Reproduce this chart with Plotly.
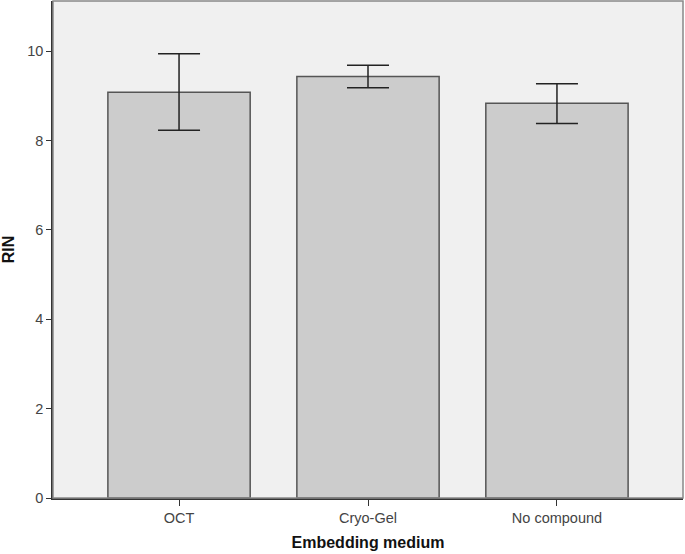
import plotly.graph_objects as go

# data
media = ['OCT', 'Cryo-Gel', 'No compound']
rin_mean = [9.08, 9.43, 8.83]
rin_upper = [9.94, 9.68, 9.27]
rin_lower = [8.23, 9.18, 8.38]

err_plus = [u - m for u, m in zip(rin_upper, rin_mean)]
err_minus = [m - l for m, l in zip(rin_mean, rin_lower)]

fig = go.Figure()
fig.add_trace(
    go.Bar(
        x=media,
        y=rin_mean,
        width=0.753,
        marker=dict(color='#cccccc', line=dict(color='#555555', width=1.5)),
        error_y=dict(
            type='data',
            symmetric=False,
            array=err_plus,
            arrayminus=err_minus,
            color='#222222',
            thickness=1.5,
            width=21
        ),
        showlegend=False
    )
)

fig.update_layout(
    width=685,
    height=554,
    margin=dict(l=53, r=2, t=1, b=56, autoexpand=False),
    plot_bgcolor='#f0f0f0',
    paper_bgcolor='white',
    font=dict(family='Liberation Sans, Arial, sans-serif', color='#333333', size=13),
    shapes=[
        dict(type='rect', xref='paper', yref='paper', x0=0, y0=0, x1=1, y1=1,
             line=dict(color='#888888', width=1.5), layer='above')
    ]
)

fig.update_xaxes(
    range=[-0.667, 2.667],
    automargin=False,
    showline=True,
    linecolor='#333333',
    linewidth=1.5,
    ticks='outside',
    ticklen=6,
    tickcolor='#333333',
    showgrid=False,
    title=dict(text='<b>Embedding medium</b>', font=dict(size=16, color='#111111'), standoff=12),
    tickfont=dict(size=14.5, color='#444444')
)
fig.update_yaxes(
    range=[0, 11.12],
    automargin=False,
    tickvals=[0, 2, 4, 6, 8, 10],
    showline=True,
    linecolor='#333333',
    linewidth=1.5,
    ticks='outside',
    ticklen=5,
    tickcolor='#333333',
    showgrid=False,
    zeroline=False,
    title=dict(text='<b>RIN</b>', font=dict(size=16, color='#111111'), standoff=12),
    tickfont=dict(size=14.5, color='#444444')
)

# page has a default body margin; drop it so the figure sits at the window corner
fig.write_html('out.html', config={'displayModeBar': False},
               post_script="document.body.style.margin='0';")
